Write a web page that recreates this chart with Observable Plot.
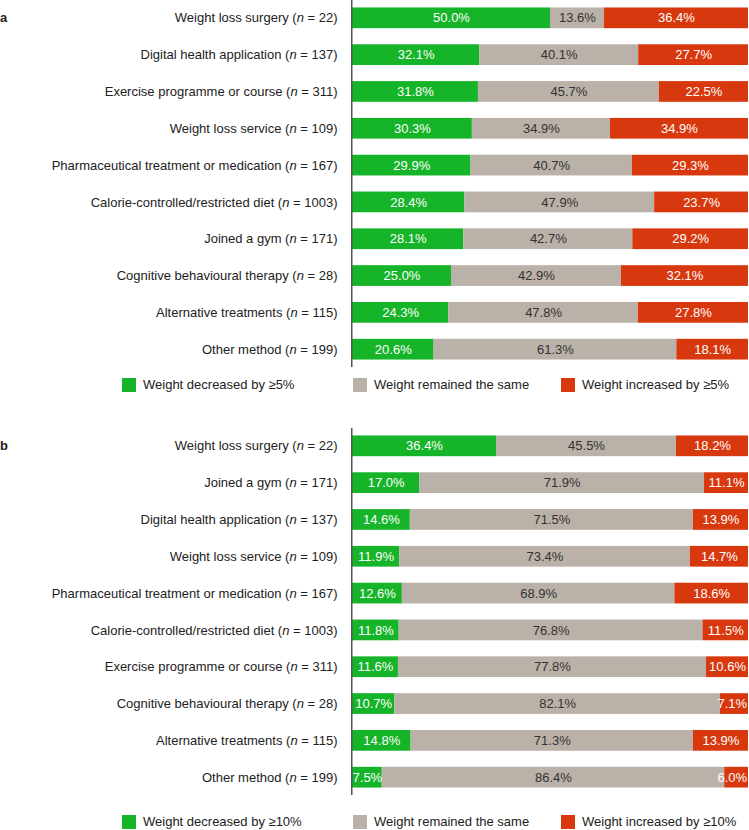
<!DOCTYPE html>
<html>
<head>
<meta charset="utf-8">
<script src="https://cdn.jsdelivr.net/npm/d3@7"></script>
<script src="https://cdn.jsdelivr.net/npm/@observablehq/plot@0.6"></script>
<style>
  html, body { margin: 0; padding: 0; background: #fff; }
  body { font-family: "Liberation Sans", Arial, sans-serif; color: #222; }
  #wrap { position: relative; width: 749px; height: 830px; overflow: hidden; }
  .tag { position: absolute; left: 0; font-weight: bold; font-size: 13px; line-height: 14px; }
  .legend { position: absolute; left: 0; width: 749px; height: 14px; font-size: 13px; }
  .legend .sw { position: absolute; top: 0; width: 14px; height: 14px; }
  .legend .lb { position: absolute; top: 0; line-height: 14px; white-space: nowrap; color: #222; }
</style>
</head>
<body>
<div id="wrap"></div>
<script>
// ---------- data ----------
const colors = ["#16b428", "#bab1a8", "#d8380e"];

const aSeries = ["Weight decreased by ≥5%", "Weight remained the same", "Weight increased by ≥5%"];
const aLabels = [
  "Weight loss surgery (n = 22)",
  "Digital health application (n = 137)",
  "Exercise programme or course (n = 311)",
  "Weight loss service (n = 109)",
  "Pharmaceutical treatment or medication (n = 167)",
  "Calorie-controlled/restricted diet (n = 1003)",
  "Joined a gym (n = 171)",
  "Cognitive behavioural therapy (n = 28)",
  "Alternative treatments (n = 115)",
  "Other method (n = 199)"
];
const aDecreased = [50.0, 32.1, 31.8, 30.3, 29.9, 28.4, 28.1, 25.0, 24.3, 20.6];
const aSame      = [13.6, 40.1, 45.7, 34.9, 40.7, 47.9, 42.7, 42.9, 47.8, 61.3];
const aIncreased = [36.4, 27.7, 22.5, 34.9, 29.3, 23.7, 29.2, 32.1, 27.8, 18.1];

const bSeries = ["Weight decreased by ≥10%", "Weight remained the same", "Weight increased by ≥10%"];
const bLabels = [
  "Weight loss surgery (n = 22)",
  "Joined a gym (n = 171)",
  "Digital health application (n = 137)",
  "Weight loss service (n = 109)",
  "Pharmaceutical treatment or medication (n = 167)",
  "Calorie-controlled/restricted diet (n = 1003)",
  "Exercise programme or course (n = 311)",
  "Cognitive behavioural therapy (n = 28)",
  "Alternative treatments (n = 115)",
  "Other method (n = 199)"
];
const bDecreased = [36.4, 17.0, 14.6, 11.9, 12.6, 11.8, 11.6, 10.7, 14.8, 7.5];
const bSame      = [45.5, 71.9, 71.5, 73.4, 68.9, 76.8, 77.8, 82.1, 71.3, 86.4];
const bIncreased = [18.2, 11.1, 13.9, 14.7, 18.6, 11.5, 10.6, 7.1, 13.9, 6.0];

// ---------- rendering ----------
const FONT = "'Liberation Sans', Arial, sans-serif";
const wrap = document.getElementById("wrap");

function buildPanel(labels, series, cols, top, tag, legendTop) {
  const data = labels.flatMap((label, i) =>
    series.map((cat, j) => ({label, cat, value: cols[j][i]})));
  const fmt = d => d.value.toFixed(1) + "%";
  const svg = Plot.plot({
    width: 749,
    height: 368,
    marginLeft: 352,
    marginRight: 1,
    marginTop: 0,
    marginBottom: 1,
    style: {fontFamily: FONT, fontSize: "13px", background: "white", color: "#222"},
    x: {domain: [0, 1], axis: null},
    y: {domain: labels, paddingInner: 0.437, paddingOuter: 0.2026, round: false, axis: null, label: null},
    color: {domain: series, range: colors},
    marks: [
      Plot.barX(data, {x: "value", y: "label", fill: "cat", offset: "normalize"}),
      Plot.text(data, Plot.stackX({
        x: "value", y: "label", z: "cat", offset: "normalize",
        text: d => d.cat === series[1] ? "" : fmt(d),
        fill: "white", fontSize: 13
      })),
      Plot.text(data, Plot.stackX({
        x: "value", y: "label", z: "cat", offset: "normalize",
        text: d => d.cat === series[1] ? fmt(d) : "",
        fill: "#333", fontSize: 13
      })),
      Plot.ruleX([0], {stroke: "#555", strokeWidth: 1.5, dx: -0.75}),
      Plot.axisY({tickSize: 0, tickPadding: 15, fontSize: 13, fill: "#222", label: null})
    ]
  });
  svg.style.position = "absolute";
  svg.style.top = top + "px";
  svg.style.left = "0px";
  // italic "n"
  svg.querySelectorAll('g[aria-label="y-axis tick label"] text').forEach(t => {
    const s = t.textContent;
    const m = s.match(/^(.*\()n( = .*)$/);
    if (!m) return;
    while (t.firstChild) t.removeChild(t.firstChild);
    const ns = "http://www.w3.org/2000/svg";
    const a = document.createElementNS(ns, "tspan"); a.textContent = m[1];
    const b = document.createElementNS(ns, "tspan"); b.textContent = "n"; b.setAttribute("font-style", "italic");
    const c = document.createElementNS(ns, "tspan"); c.textContent = m[2];
    t.append(a, b, c);
  });
  wrap.appendChild(svg);

  // keep value labels inside the right edge
  const svgLeft = svg.getBoundingClientRect().left;
  svg.querySelectorAll('g[aria-label="text"] text').forEach(t => {
    if (!t.textContent) return;
    const r = t.getBoundingClientRect();
    const over = (r.right - svgLeft) - 747.5;
    if (over > 0) {
      const cur = t.getAttribute("transform") || "";
      t.setAttribute("transform", `translate(${-over},0) ` + cur);
    }
  });

  const tg = document.createElement("div");
  tg.className = "tag";
  tg.style.top = (top + 11) + "px";
  tg.textContent = tag;
  wrap.appendChild(tg);

  const lg = document.createElement("div");
  lg.className = "legend";
  lg.style.top = legendTop + "px";
  const xs = [122, 353, 561];
  series.forEach((s, i) => {
    const sw = document.createElement("div");
    sw.className = "sw";
    sw.style.left = xs[i] + "px";
    sw.style.background = colors[i];
    const lb = document.createElement("div");
    lb.className = "lb";
    lb.style.left = (xs[i] + 21) + "px";
    lb.textContent = s;
    lg.append(sw, lb);
  });
  wrap.appendChild(lg);
}

buildPanel(aLabels, aSeries, [aDecreased, aSame, aIncreased], 0, "a", 378);
buildPanel(bLabels, bSeries, [bDecreased, bSame, bIncreased], 428, "b", 815);
</script>
</body>
</html>
